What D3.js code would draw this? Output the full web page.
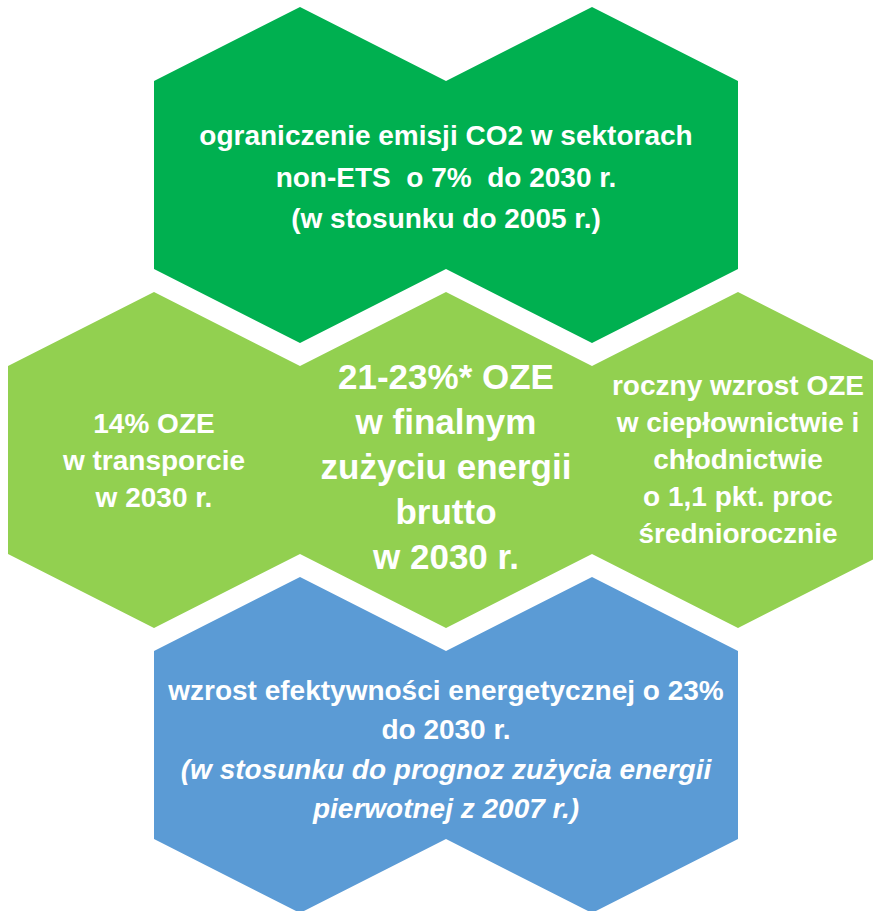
<!DOCTYPE html>
<html>
<head>
<meta charset="utf-8">
<script src="https://cdn.jsdelivr.net/npm/d3@7"></script>
<style>
  body { margin: 0; background: #fff; }
  text { font-family: "Liberation Sans", Arial, sans-serif; font-weight: bold; fill: #fff; }
</style>
</head>
<body>
<div id="chart"></div>
<script>
// rows of the honeycomb and which half-columns hold a hexagon
var rowIds = ["co2", "oze", "efektywnosc"];
var rowColors = ["#00b050", "#92d050", "#5b9bd5"];
var rowCols = [[2, 4], [1, 3, 5], [2, 4]];

// texts of each cell
var topLines = ["ograniczenie emisji CO2 w sektorach", "non-ETS  o 7%  do 2030 r.", "(w stosunku do 2005 r.)"];
var leftLines = ["14% OZE", "w transporcie", "w 2030 r."];
var centerLines = ["21-23%* OZE", "w finalnym", "zużyciu energii", "brutto", "w 2030 r."];
var rightLines = ["roczny wzrost OZE", "w ciepłownictwie i", "chłodnictwie", "o 1,1 pkt. proc", "średniorocznie"];
var bottomLines = ["wzrost efektywności energetycznej o 23%", "do 2030 r.", "(w stosunku do prognoz zużycia energii", "pierwotnej z 2007 r.)"];

var width = 873, height = 911;

var svg = d3.select("#chart").append("svg")
    .attr("width", width)
    .attr("height", height);

// half-column -> px, row -> px
var x = d3.scaleLinear().domain([0, 6]).range([8, 884]);
var y = d3.scaleLinear().domain([0, 2]).range([175, 745]);

// hexagon half heights (shoulder and tip)
var shoulder = 94, tip = 168;

function rowPath(cols, row) {
  var cy = y(row), pts = [];
  pts.push([x(cols[0] - 1), cy + shoulder]);
  pts.push([x(cols[0] - 1), cy - shoulder]);
  cols.forEach(function(c) {
    pts.push([x(c), cy - tip]);
    pts.push([x(c + 1), cy - shoulder]);
  });
  pts.push([x(cols[cols.length - 1] + 1), cy + shoulder]);
  cols.slice().reverse().forEach(function(c) {
    pts.push([x(c), cy + tip]);
    pts.push([x(c - 1), cy + shoulder]);
  });
  return d3.line()(pts) + "Z";
}

svg.selectAll("path.row")
    .data(rowIds)
  .enter().append("path")
    .attr("class", "row")
    .attr("d", function(d, i) { return rowPath(rowCols[i], i); })
    .attr("fill", function(d, i) { return rowColors[i]; });

// text blocks: lines, cell, font size, line step
var blocks = [
  { lines: topLines, col: 3, row: 0, size: 28, step: 41.5, shift: 2 },
  { lines: leftLines, col: 1, row: 1, size: 28, step: 37, shift: 0 },
  { lines: centerLines, col: 3, row: 1, size: 35, step: 45, shift: 7 },
  { lines: rightLines, col: 5, row: 1, size: 28, step: 37, shift: -1 },
  { lines: bottomLines, col: 3, row: 2, size: 28, step: 39.5, shift: 4 }
];

blocks.forEach(function(b, bi) {
  var n = b.lines.length;
  var cy = y(b.row) + b.shift;
  svg.append("g")
      .selectAll("text")
      .data(b.lines)
    .enter().append("text")
      .attr("x", x(b.col))
      .attr("y", function(d, i) { return cy + (i - (n - 1) / 2) * b.step; })
      .attr("dy", "0.35em")
      .attr("text-anchor", "middle")
      .style("font-size", b.size + "px")
      .style("font-style", function(d, i) { return (bi == 4 && i >= 2) ? "italic" : "normal"; })
      .style("white-space", "pre")
      .text(function(d) { return d; });
});
</script>
</body>
</html>
